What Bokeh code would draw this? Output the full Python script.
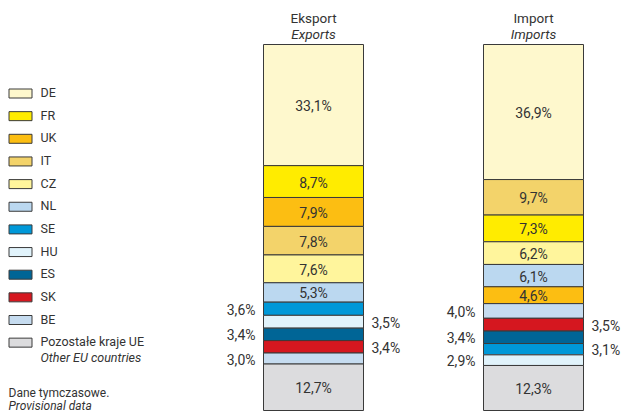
from bokeh.plotting import figure
from bokeh.models import Range1d, ColumnDataSource
from bokeh.core.properties import value
from bokeh.embed import file_html
from bokeh.resources import INLINE

# ---------------- data ----------------
countries = ["DE", "FR", "UK", "IT", "CZ", "NL", "SE", "HU", "ES", "SK", "BE", "OTHER"]
legend_labels = ["DE", "FR", "UK", "IT", "CZ", "NL", "SE", "HU", "ES", "SK", "BE",
                 "Pozostałe kraje UE"]
legend_labels_en = ["", "", "", "", "", "", "", "", "", "", "", "Other EU countries"]
colors = ["#FEF8CD", "#FFEC00", "#FCBE12", "#F3D36A", "#FFF59C", "#BBD8F0",
          "#0098D8", "#E1F3FB", "#006596", "#D5171F", "#C6DCF0", "#DCDCDE"]
export_share = [33.1, 8.7, 7.9, 7.8, 7.6, 5.3, 3.6, 3.5, 3.4, 3.4, 3.0, 12.7]
import_share = [36.9, 7.3, 4.6, 9.7, 6.2, 6.1, 3.1, 2.9, 3.4, 3.5, 4.0, 12.3]
bar_titles = ["Eksport", "Import"]
bar_titles_en = ["Exports", "Imports"]
note_pl = "Dane tymczasowe."
note_en = "Provisional data"

# ---------------- layout ----------------
W, H = 622, 413
PX = 3.66          # pixels per percent
TOP = 44           # canvas y of the 100% line
Y1 = 100 + TOP / PX
Y0 = Y1 - H / PX
FONT = "Roboto"
TXT = "#333333"
EDGE = "#3a3a3a"
BAR_W = 100
centers = [313, 533]


def yd(canvas_y):
    return Y1 - canvas_y / PX


p = figure(width=W, height=H, x_range=Range1d(0, W), y_range=Range1d(Y0, Y1),
           output_backend="svg", toolbar_location=None, min_border=0,
           x_axis_type=None, y_axis_type=None)
p.grid.visible = False
p.outline_line_color = None
p.background_fill_color = "white"
p.border_fill_color = "white"

for bi, shares in enumerate([export_share, import_share]):
    cx = centers[bi]
    idx = [i for i in range(len(countries)) if countries[i] != "OTHER"]
    idx = sorted(idx, key=lambda i: -shares[i]) + [countries.index("OTHER")]
    tops, bottoms, cols, labs, mids = [], [], [], [], []
    cum = 0.0
    for i in idx:
        tops.append(100 - cum)
        cum += shares[i]
        bottoms.append(100 - cum)
        cols.append(colors[i])
        labs.append(f"{shares[i]:.1f}".replace(".", ",") + "%")
        mids.append((tops[-1] + bottoms[-1]) / 2)
    src = ColumnDataSource(dict(left=[cx - BAR_W / 2] * len(idx), right=[cx + BAR_W / 2] * len(idx),
                                top=tops, bottom=bottoms, color=cols))
    p.quad(left="left", right="right", top="top", bottom="bottom", fill_color="color",
           line_color=EDGE, line_width=1, source=src)
    inside_x, inside_y, inside_t = [], [], []
    lx, ly, lt, rx, ry, rt = [], [], [], [], [], []
    side = 0
    for k, i in enumerate(idx):
        if shares[i] >= 4.5:
            inside_x.append(cx); inside_y.append(mids[k]); inside_t.append(labs[k])
        else:
            if side == 0:
                lx.append(cx - BAR_W / 2 - 8); ly.append(mids[k]); lt.append(labs[k])
            else:
                rx.append(cx + BAR_W / 2 + 8); ry.append(mids[k]); rt.append(labs[k])
            side = 1 - side
    p.text(x=inside_x, y=inside_y, text=inside_t, text_align="center", text_baseline="middle",
           text_font=value(FONT), text_font_size="14px", text_color=TXT, y_offset=1)
    p.text(x=lx, y=ly, text=lt, text_align="right", text_baseline="middle",
           text_font=value(FONT), text_font_size="14px", text_color=TXT, y_offset=1)
    p.text(x=rx, y=ry, text=rt, text_align="left", text_baseline="middle",
           text_font=value(FONT), text_font_size="14px", text_color=TXT, y_offset=1)
    p.text(x=[cx], y=[yd(17)], text=[bar_titles[bi]], text_align="center", text_baseline="middle",
           text_font=value(FONT), text_font_size="13.5px", text_color=TXT)
    p.text(x=[cx], y=[yd(33)], text=[bar_titles_en[bi]], text_align="center", text_baseline="middle",
           text_font=value(FONT), text_font_size="13.5px", text_font_style="italic", text_color=TXT)

# legend
n = len(countries)
leg_y = [yd(93 + k * 22.65) for k in range(n)]
p.rect(x=[20] * n, y=leg_y, width=23, height=9, width_units="screen", height_units="screen",
       fill_color=colors, line_color=EDGE, line_width=1)
p.text(x=[40] * n, y=leg_y, text=legend_labels, text_align="left", text_baseline="middle",
       text_font=value(FONT), text_font_size="12.5px", text_color=TXT, y_offset=-1)
p.text(x=[40], y=[yd(93 + 11 * 22.65 + 15)], text=[legend_labels_en[-1]], text_align="left",
       text_baseline="middle", text_font=value(FONT), text_font_size="12.5px",
       text_font_style="italic", text_color=TXT)
p.text(x=[8], y=[yd(392)], text=[note_pl], text_align="left", text_baseline="middle",
       text_font=value(FONT), text_font_size="12px", text_color=TXT)
p.text(x=[8], y=[yd(405)], text=[note_en], text_align="left", text_baseline="middle",
       text_font=value(FONT), text_font_size="12px", text_font_style="italic", text_color=TXT)

open("out.html", "w").write(file_html(p, INLINE))
